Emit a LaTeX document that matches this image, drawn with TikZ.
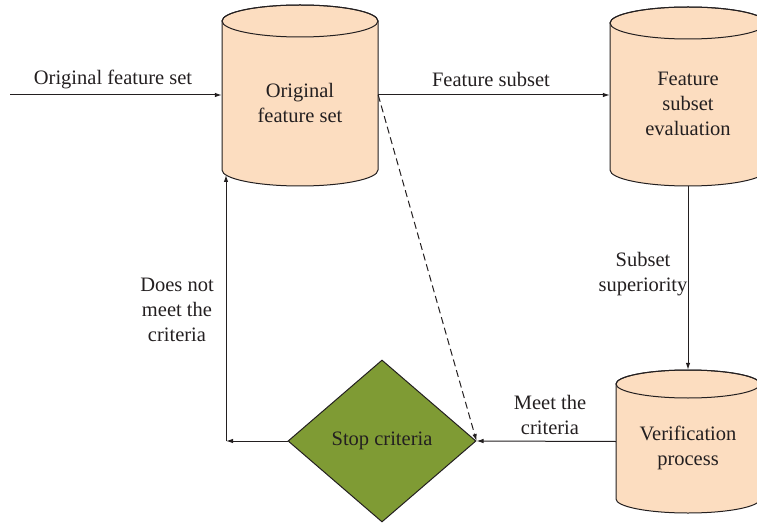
\documentclass[tikz,border=0pt]{standalone}
\usepackage{fontspec}
\setmainfont{Liberation Serif}
\usetikzlibrary{arrows.meta,shapes.geometric}

\definecolor{peach}{HTML}{FCDDC0}
\definecolor{olive}{HTML}{7F9B34}
\definecolor{ink}{HTML}{231F20}

% cylinder: name, centre x, top ellipse y, bottom ellipse y, x radius, y radius, text, text y
\newcommand{\drumnode}[8]{%
  \path[draw=ink,fill=peach,line width=1pt]
    (#2-#5,#3) -- (#2-#5,#4)
    arc[start angle=180,end angle=0,x radius=#5,y radius=#6]
    -- (#2+#5,#3)
    arc[start angle=0,end angle=-180,x radius=#5,y radius=#6] -- cycle;
  \draw[ink,line width=1pt] (#2,#3) ellipse[x radius=#5,y radius=#6];
  \node[inner sep=0pt,minimum width=2*#5,minimum height=#4-#3+2*#6] (#1) at (#2,{(#3+#4)/2}) {};
  \node[txt] (#1-t) at (#2,#8) {#7};
}

\begin{document}
\begin{tikzpicture}[x=1pt,y=-1pt,
  txt/.style={font=\fontsize{20.5}{25}\selectfont,align=center,text=ink},
  link/.style={draw=ink,line width=1pt,-{Latex[length=7pt,width=4.5pt]}},
  plain/.style={draw=ink,line width=1pt}]
  \useasboundingbox (0,0) rectangle (757,529);
  \clip (0,0) rectangle (757,529);

  \drumnode{ofs}{300}{21}{170}{78}{16}{Original\\feature set}{102.5}
  \drumnode{fse}{688}{23}{170}{78}{16}{Feature\\subset\\evaluation}{103.5}
  \drumnode{ver}{688}{384}{499}{72}{14}{Verification\\process}{448}

  \node[diamond,draw=ink,fill=olive,line width=1pt,inner sep=0pt,aspect=1.16,
        minimum width=188pt,minimum height=162pt,txt] (stop) at (382,441) {Stop criteria};

  \coordinate (src) at (10,95);
  \coordinate (turn) at (226,441);
  \coordinate (back) at (226,175);

  % input
  \draw[link] (src) -- (src -| ofs.west);
  \node[txt] (l-in) at (113,79) {Original feature set};

  % subset generation
  \draw[link] (ofs.east |- src) -- (fse.west |- src);
  \node[txt] (l-sub) at (491,79) {Feature subset};

  % evaluation to verification
  \draw[link] (fse.south) -- (ver.north);
  \node[txt] (l-sup) at (643,274) {Subset\\superiority};

  % verification to stop criteria
  \draw[link] (ver.west) -- (stop.east);
  \node[txt] (l-meet) at (550,415) {Meet the\\criteria};

  % loop back
  \draw[link] (stop.west) -- (turn);
  \draw[link] (turn) -- (back);
  \node[txt] (l-not) at (177,310) {Does not\\meet the\\criteria};

  % dashed shortcut
  \draw[link,dashed,dash pattern=on 7pt off 4pt] (ofs.east |- src) -- (stop.east);
\end{tikzpicture}
\end{document}
